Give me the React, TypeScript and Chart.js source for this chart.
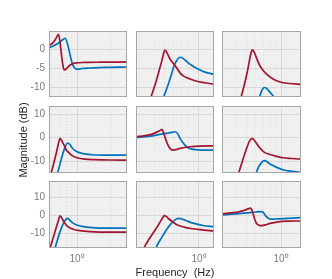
import React, { useEffect, useRef } from "react";
import { Chart, registerables } from "chart.js";
Chart.register(...registerables);

// ---------- axes / ticks ----------
const COL_X_MIN = [0.565, 0.277, 0.3];
const COL_X_MAX = [2.77, 1.358, 1.503];
const ROW_Y_MIN = [-12.55, -15.1, -18.2];
const ROW_Y_MAX = [4.8, 13.5, 19];
const ROW_Y_TICKS = [
  [-10, -5, 0],
  [-10, 0, 10],
  [-10, 0, 10],
];
const X_GRID_VALUES = [0.2, 0.3, 0.4, 0.5, 0.6, 0.7, 0.8, 0.9, 1, 2, 3, 4];
const X_MAJOR_VALUES = [1];
const X_TICK_LABELS: Record<number, string> = { 1: "10\u2070" };
const Y_LABEL = "Magnitude (dB)";
const X_LABEL = "Frequency  (Hz)";

// ---------- series (frequency in Hz, magnitude in dB) ----------
// row 1
const p11RedF = [0.565, 0.601, 0.639, 0.672, 0.686, 0.707, 0.729, 0.752, 0.775, 0.799, 0.832, 0.885, 0.98, 1.177, 1.6, 2.77];
const p11RedDb = [1.0, 1.5, 2.45, 3.6, 3.9, 1.9, -1.5, -4.4, -5.45, -5.2, -4.66, -4.0, -3.6, -3.47, -3.4, -3.34];
const p11BlueF = [0.565, 0.601, 0.652, 0.707, 0.752, 0.783, 0.815, 0.849, 0.885, 0.922, 0.97, 1.02, 1.107, 1.303, 1.77, 2.77];
const p11BlueDb = [0.34, 0.74, 1.26, 1.92, 2.58, 2.9, 1.92, -0.18, -2.55, -4.26, -5.13, -5.26, -5.05, -4.92, -4.74, -4.66];

const p12RedF = [0.347, 0.376, 0.408, 0.443, 0.471, 0.49, 0.5, 0.516, 0.532, 0.554, 0.589, 0.632, 0.679, 0.726, 0.832, 0.954, 1.13, 1.358];
const p12RedDb = [-15.9, -12.55, -9.4, -5.7, -2.8, -0.7, -0.2, -0.7, -1.5, -2.55, -3.6, -4.8, -6.2, -7.0, -7.8, -8.4, -8.8, -9.2];
const p12BlueF = [0.461, 0.485, 0.532, 0.565, 0.601, 0.639, 0.679, 0.722, 0.783, 0.867, 0.98, 1.13, 1.358];
const p12BlueDb = [-13.6, -12.55, -9.4, -7.0, -4.4, -2.8, -2.1, -2.4, -3.3, -4.26, -5.2, -6.0, -6.6];

const p13RedF = [0.425, 0.443, 0.48, 0.511, 0.537, 0.557, 0.577, 0.601, 0.639, 0.679, 0.737, 0.85, 0.98, 1.2, 1.503];
const p13RedDb = [-14.4, -12.55, -8.6, -4.9, -1.5, -0.18, -0.7, -2.0, -3.9, -5.2, -6.4, -7.8, -8.6, -9.0, -9.25];
const p13BlueF = [0.613, 0.645, 0.672, 0.693, 0.714, 0.744, 0.783, 0.832, 0.885, 0.941, 1.2, 1.503];
const p13BlueDb = [-14.4, -12.55, -11.0, -10.3, -10.05, -10.3, -11.0, -11.9, -12.8, -13.6, -15.0, -15.5];

// row 2
const p21RedF = [0.565, 0.589, 0.626, 0.665, 0.693, 0.707, 0.729, 0.752, 0.783, 0.815, 0.867, 0.922, 1.0, 1.177, 1.443, 1.959, 2.77];
const p21RedDb = [-17.7, -15.2, -10.5, -5.3, -1.5, -0.34, -1.1, -2.35, -4.1, -5.6, -6.9, -7.9, -8.6, -9.2, -9.4, -9.55, -9.6];
const p21BlueF = [0.645, 0.672, 0.714, 0.752, 0.791, 0.824, 0.859, 0.903, 0.98, 1.107, 1.358, 1.959, 2.77];
const p21BlueDb = [-18.2, -15.2, -10.5, -6.6, -3.6, -2.3, -2.8, -4.3, -5.8, -6.75, -7.3, -7.5, -7.5];

const p22RedF = [0.277, 0.333, 0.384, 0.425, 0.452, 0.471, 0.49, 0.511, 0.532, 0.554, 0.583, 0.626, 0.679, 0.832, 1.02, 1.358];
const p22RedDb = [0.34, 0.85, 1.5, 2.35, 3.0, 3.5, 1.5, -1.07, -3.2, -4.6, -5.3, -5.1, -4.6, -3.9, -3.6, -3.5];
const p22BlueF = [0.277, 0.368, 0.452, 0.532, 0.589, 0.619, 0.652, 0.679, 0.714, 0.752, 0.799, 0.867, 0.98, 1.153, 1.358];
const p22BlueDb = [0.08, 0.64, 1.37, 1.9, 2.35, 2.5, 1.5, -0.34, -1.9, -3.2, -4.3, -4.9, -5.2, -5.3, -5.3];

const p23RedF = [0.4, 0.421, 0.452, 0.49, 0.526, 0.557, 0.583, 0.613, 0.652, 0.707, 0.799, 0.885, 1.04, 1.25, 1.503];
const p23RedDb = [-18.2, -15.2, -10.5, -5.3, -1.5, -0.34, -1.3, -2.8, -4.5, -6.2, -7.2, -7.8, -8.6, -8.9, -9.2];
const p23BlueF = [0.577, 0.601, 0.632, 0.665, 0.693, 0.722, 0.759, 0.815, 0.903, 1.04, 1.25, 1.503];
const p23BlueDb = [-18.2, -15.2, -12.6, -10.9, -10.0, -9.8, -10.5, -11.5, -12.6, -13.7, -14.4, -14.9];

// row 3
const p31RedF = [0.554, 0.577, 0.613, 0.652, 0.686, 0.707, 0.729, 0.752, 0.783, 0.824, 0.867, 0.941, 1.063, 1.303, 1.959, 2.77];
const p31RedDb = [-21.8, -18.3, -12.9, -7.3, -2.6, -0.4, -1.2, -2.9, -4.55, -6.2, -7.05, -7.9, -8.6, -9.1, -9.4, -9.4];
const p31BlueF = [0.613, 0.639, 0.679, 0.722, 0.767, 0.799, 0.824, 0.859, 0.903, 0.98, 1.107, 1.358, 1.959, 2.77];
const p31BlueDb = [-22, -18.3, -12.6, -7.6, -4.0, -2.3, -1.8, -2.6, -4.0, -5.3, -6.2, -6.9, -7.2, -7.2];

const p32RedF = [0.313, 0.326, 0.368, 0.408, 0.443, 0.471, 0.493, 0.516, 0.542, 0.577, 0.632, 0.693, 0.767, 0.885, 1.02, 1.358];
const p32RedDb = [-22, -18.3, -12.5, -8.3, -4.8, -2.0, -0.2, -0.8, -2.1, -3.4, -5.1, -6.1, -6.9, -7.5, -8.0, -8.8];
const p32BlueF = [0.4, 0.416, 0.471, 0.521, 0.565, 0.613, 0.665, 0.722, 0.799, 0.922, 1.085, 1.358];
const p32BlueDb = [-22, -18.3, -12.0, -7.6, -4.8, -2.6, -1.8, -2.3, -3.4, -4.7, -5.7, -6.4];

const p33RedF = [0.3, 0.354, 0.416, 0.471, 0.511, 0.537, 0.56, 0.583, 0.607, 0.639, 0.672, 0.722, 0.799, 0.941, 1.153, 1.503];
const p33RedDb = [0.72, 1.3, 1.8, 2.7, 3.5, 3.9, 1.8, -2.05, -4.55, -5.55, -5.8, -5.4, -4.55, -3.7, -3.3, -3.2];
const p33BlueF = [0.3, 0.392, 0.511, 0.601, 0.665, 0.7, 0.737, 0.775, 0.832, 0.941, 1.153, 1.503];
const p33BlueDb = [0.17, 0.72, 1.3, 1.8, 2.0, 1.3, -0.67, -1.8, -2.2, -2.05, -1.7, -1.3];

const PANELS = [
  [
    { rf: p11RedF, rd: p11RedDb, bf: p11BlueF, bd: p11BlueDb },
    { rf: p12RedF, rd: p12RedDb, bf: p12BlueF, bd: p12BlueDb },
    { rf: p13RedF, rd: p13RedDb, bf: p13BlueF, bd: p13BlueDb },
  ],
  [
    { rf: p21RedF, rd: p21RedDb, bf: p21BlueF, bd: p21BlueDb },
    { rf: p22RedF, rd: p22RedDb, bf: p22BlueF, bd: p22BlueDb },
    { rf: p23RedF, rd: p23RedDb, bf: p23BlueF, bd: p23BlueDb },
  ],
  [
    { rf: p31RedF, rd: p31RedDb, bf: p31BlueF, bd: p31BlueDb },
    { rf: p32RedF, rd: p32RedDb, bf: p32BlueF, bd: p32BlueDb },
    { rf: p33RedF, rd: p33RedDb, bf: p33BlueF, bd: p33BlueDb },
  ],
];

// ---------- layout / style ----------
const PANEL_LEFT = [49, 136, 222];
const PANEL_W = [78, 78, 79];
const PANEL_TOP = [31, 106, 181];
const PANEL_H = [66, 67, 67];
const M = 14;
const YLAB = 40;
const XLAB = 22;
const RED = "#A2142F";
const BLUE = "#0072BD";
const FONT = "'Liberation Sans', Arial, Helvetica, sans-serif";
const TICK_COLOR = "#7a7a7a";

const panelPlugin = {
  id: "panelBox",
  beforeDraw(chart: any) {
    const { ctx, chartArea: a } = chart;
    ctx.save();
    ctx.fillStyle = "#f0f0f0";
    ctx.fillRect(a.left, a.top, a.right - a.left, a.bottom - a.top);
    ctx.restore();
  },
  afterDraw(chart: any) {
    const { ctx, chartArea: a } = chart;
    ctx.save();
    ctx.strokeStyle = "#a6a6a6";
    ctx.lineWidth = 1;
    ctx.strokeRect(Math.round(a.left) + 0.5, Math.round(a.top) + 0.5, Math.round(a.right - a.left) - 1, Math.round(a.bottom - a.top) - 1);
    ctx.restore();
  },
};

function Panel({ r, c }: { r: number; c: number }) {
  const ref = useRef<HTMLCanvasElement>(null);
  const isLeft = c === 0;
  const isBottom = r === 2;
  const w = PANEL_W[c] + 2 * M + (isLeft ? YLAB : 0);
  const h = PANEL_H[r] + 2 * M + (isBottom ? XLAB : 0);
  const left = PANEL_LEFT[c] - M - (isLeft ? YLAB : 0);
  const top = PANEL_TOP[r] - M;

  useEffect(() => {
    const p = PANELS[r][c];
    const red = p.rf.map((f, i) => ({ x: f, y: p.rd[i] }));
    const blue = p.bf.map((f, i) => ({ x: f, y: p.bd[i] }));
    const chart = new Chart(ref.current as HTMLCanvasElement, {
      type: "line",
      data: {
        datasets: [
          { data: red, borderColor: RED, borderWidth: 1.7, pointRadius: 0, cubicInterpolationMode: "monotone", fill: false },
          { data: blue, borderColor: BLUE, borderWidth: 1.7, pointRadius: 0, cubicInterpolationMode: "monotone", fill: false },
        ],
      },
      options: {
        animation: false,
        responsive: false,
        devicePixelRatio: 1,
        events: [],
        layout: { padding: M },
        plugins: { legend: { display: false }, tooltip: { enabled: false } },
        scales: {
          x: {
            type: "logarithmic",
            min: COL_X_MIN[c],
            max: COL_X_MAX[c],
            afterBuildTicks: (s: any) => {
              s.ticks = X_GRID_VALUES.filter((v) => v >= COL_X_MIN[c] && v <= COL_X_MAX[c]).map((v) => ({ value: v }));
            },
            afterFit: (s: any) => {
              s.height = isBottom ? XLAB : 0;
            },
            ticks: {
              display: isBottom,
              autoSkip: false,
              maxRotation: 0,
              padding: 5,
              color: TICK_COLOR,
              font: { family: FONT, size: 10 },
              callback: (v: any) => X_TICK_LABELS[v as number] ?? "",
            },
            grid: {
              drawTicks: false,
              lineWidth: 1,
              color: (ctx: any) => (X_MAJOR_VALUES.includes(ctx.tick?.value) ? "#d8d8d8" : "#dedede"),
            },
            border: {
              display: false,
              dash: (ctx: any) => (X_MAJOR_VALUES.includes(ctx.tick?.value) ? [] : [1, 2]),
            },
          },
          y: {
            type: "linear",
            min: ROW_Y_MIN[r],
            max: ROW_Y_MAX[r],
            afterBuildTicks: (s: any) => {
              s.ticks = ROW_Y_TICKS[r].map((v) => ({ value: v }));
            },
            afterFit: (s: any) => {
              s.width = isLeft ? YLAB : 0;
            },
            ticks: {
              display: isLeft,
              padding: 4,
              color: TICK_COLOR,
              font: { family: FONT, size: 10 },
              callback: (v: any) => String(v),
            },
            grid: { drawTicks: false, lineWidth: 1, color: "#d8d8d8" },
            border: { display: false },
          },
        },
      } as any,
      plugins: [panelPlugin],
    });
    return () => chart.destroy();
  }, [r, c]);

  return (
    <canvas
      ref={ref}
      width={w}
      height={h}
      style={{ position: "absolute", left, top, width: w, height: h }}
    />
  );
}

export default function App() {
  const cells: JSX.Element[] = [];
  for (let r = 0; r < 3; r++) for (let c = 0; c < 3; c++) cells.push(<Panel key={`${r}-${c}`} r={r} c={c} />);
  return (
    <div style={{ position: "absolute", left: 0, top: 0, width: 332, height: 279, background: "#fff", overflow: "hidden" }}>
      {cells}
      <div
        style={{
          position: "absolute",
          left: 23 - 60,
          top: 140 - 7,
          width: 120,
          height: 14,
          lineHeight: "14px",
          textAlign: "center",
          transform: "rotate(-90deg)",
          transformOrigin: "center center",
          fontFamily: FONT,
          fontSize: 11,
          color: "#262626",
        }}
      >
        {Y_LABEL}
      </div>
      <div
        style={{
          position: "absolute",
          left: 75,
          top: 265,
          width: 200,
          height: 14,
          lineHeight: "14px",
          textAlign: "center",
          whiteSpace: "pre",
          fontFamily: FONT,
          fontSize: 11,
          color: "#262626",
        }}
      >
        {X_LABEL}
      </div>
    </div>
  );
}
